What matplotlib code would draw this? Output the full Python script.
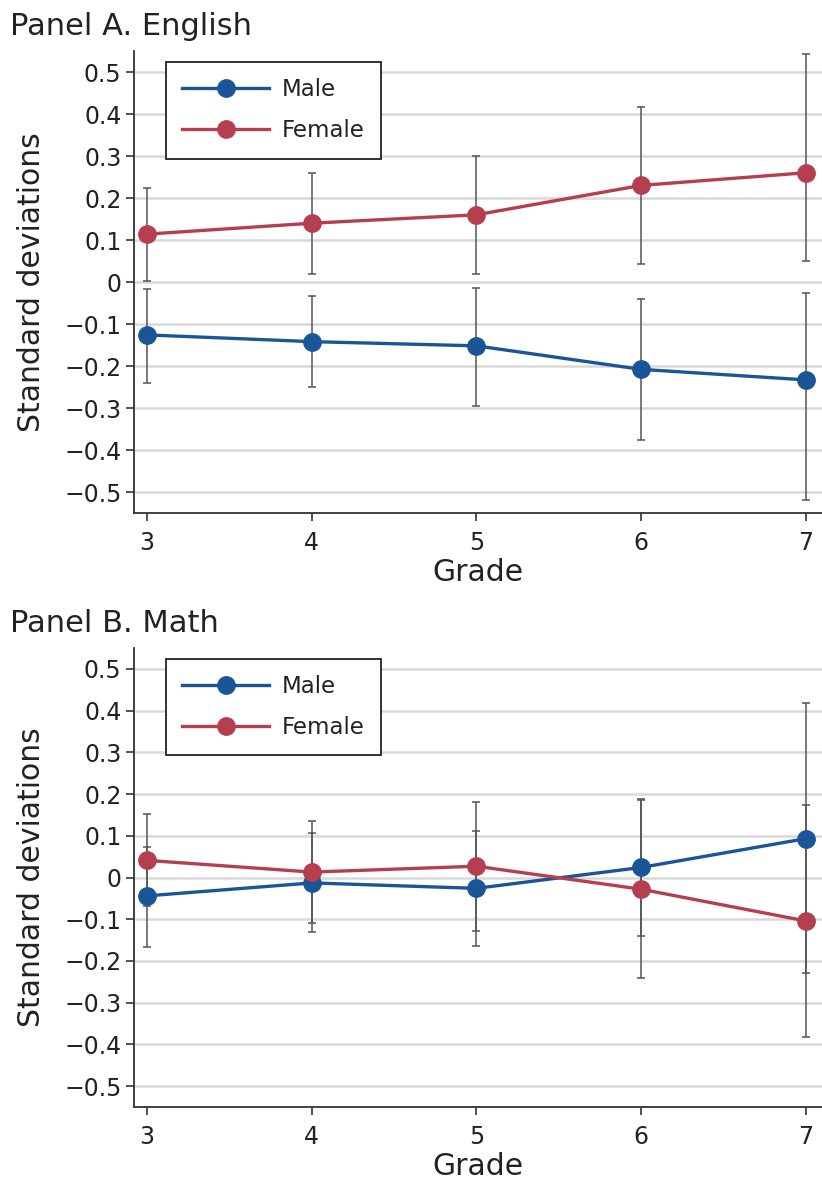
import matplotlib
matplotlib.use("Agg")
import matplotlib.pyplot as plt
import numpy as np

plt.rcParams['font.family'] = ['DejaVu Sans']

grades = [3, 4, 5, 6, 7]
y_ticks = [-0.5, -0.4, -0.3, -0.2, -0.1, 0, 0.1, 0.2, 0.3, 0.4, 0.5]
y_tick_labels = ['\u22120.5', '\u22120.4', '\u22120.3', '\u22120.2', '\u22120.1', '0',
                 '0.1', '0.2', '0.3', '0.4', '0.5']

# Panel A: English
eng_male = [-0.126, -0.142, -0.152, -0.208, -0.233]
eng_male_lo = [-0.240, -0.251, -0.296, -0.376, -0.519]
eng_male_hi = [-0.017, -0.033, -0.015, -0.041, -0.025]
eng_female = [0.114, 0.140, 0.160, 0.230, 0.260]
eng_female_lo = [0.003, 0.019, 0.019, 0.042, 0.050]
eng_female_hi = [0.223, 0.259, 0.299, 0.417, 0.544]

# Panel B: Math
math_male = [-0.044, -0.013, -0.026, 0.024, 0.093]
math_male_lo = [-0.166, -0.130, -0.164, -0.140, -0.228]
math_male_hi = [0.074, 0.106, 0.112, 0.188, 0.418]
math_female = [0.041, 0.013, 0.027, -0.028, -0.104]
math_female_lo = [-0.068, -0.110, -0.128, -0.242, -0.382]
math_female_hi = [0.152, 0.136, 0.182, 0.186, 0.174]

MALE = '#1a5697'
FEMALE = '#b63f4f'
W, H = 822, 1184


def draw_series(ax, mid, lo, hi, color, label):
    mid = np.array(mid)
    err = [mid - np.array(lo), np.array(hi) - mid]
    ax.errorbar(grades, mid, yerr=err, fmt='none', ecolor='#555555', alpha=0.85,
                elinewidth=1.3, capsize=2.8, capthick=1.3, zorder=2)
    ax.plot(grades, mid, '-o', color=color, lw=2.4, ms=12.5, label=label, zorder=3)


def style_panel(ax):
    ax.set_xlim(2.92, 7.1)
    ax.set_ylim(-0.55, 0.55)
    ax.set_xticks(grades)
    ax.set_yticks(y_ticks)
    ax.set_yticklabels(y_tick_labels)
    ax.tick_params(axis='both', labelsize=17, length=6, width=1.2, color='#333333',
                   labelcolor='#222222')
    ax.tick_params(axis='y', pad=3)
    ax.tick_params(axis='x', pad=7)
    ax.grid(axis='y', color='#d9d9d9', lw=1.8, zorder=0)
    ax.set_axisbelow(True)
    for s in ['top', 'right']:
        ax.spines[s].set_visible(False)
    for s in ['left', 'bottom']:
        ax.spines[s].set_color('#333333')
        ax.spines[s].set_linewidth(1.3)
    ax.set_xlabel('Grade', fontsize=21.5, color='#222222', labelpad=2)
    ax.set_ylabel('Standard deviations', fontsize=21.5, color='#222222')
    ax.yaxis.set_label_coords(-0.128, 0.5)
    leg = ax.legend(loc='upper left', bbox_to_anchor=(0.0465, 0.976), borderaxespad=0,
                    fontsize=16.5, handlelength=3.8, handletextpad=0.57, borderpad=0.7,
                    labelspacing=0.8, numpoints=1, fancybox=False, framealpha=1)
    leg.get_frame().set_edgecolor('#222222')
    leg.get_frame().set_linewidth(1.3)
    for t in leg.get_texts():
        t.set_color('#222222')


fig = plt.figure(figsize=(W / 100, H / 100), dpi=100)
ax1 = fig.add_axes([134 / W, 1 - 513 / H, 688 / W, 462 / H])
ax2 = fig.add_axes([134 / W, 1 - 1107 / H, 688 / W, 459 / H])

draw_series(ax1, eng_male, eng_male_lo, eng_male_hi, MALE, 'Male')
draw_series(ax1, eng_female, eng_female_lo, eng_female_hi, FEMALE, 'Female')
style_panel(ax1)

draw_series(ax2, math_male, math_male_lo, math_male_hi, MALE, 'Male')
draw_series(ax2, math_female, math_female_lo, math_female_hi, FEMALE, 'Female')
style_panel(ax2)

fig.text(10 / W, 1 - 35 / H, 'Panel A. English', fontsize=22, color='#222222',
         ha='left', va='baseline')
fig.text(10 / W, 1 - 632 / H, 'Panel B. Math', fontsize=22, color='#222222',
         ha='left', va='baseline')

fig.savefig('out.png', dpi=100)
